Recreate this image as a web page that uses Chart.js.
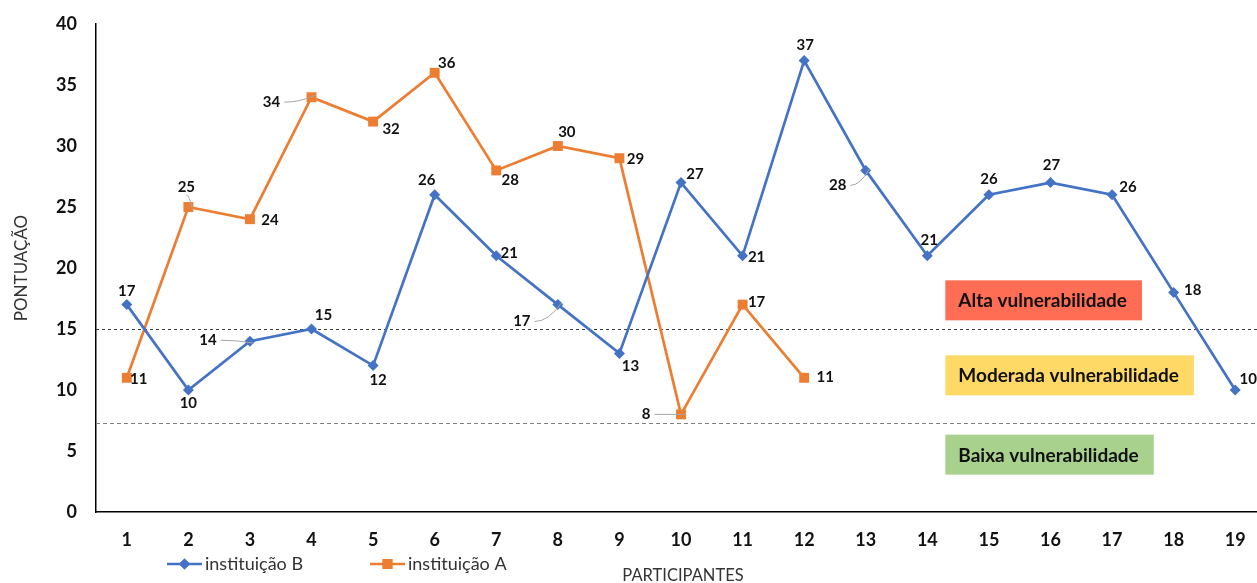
<!DOCTYPE html>
<html>
<head>
<meta charset="utf-8">
<script src="https://cdn.jsdelivr.net/npm/chart.js@4.4.1/dist/chart.umd.min.js"></script>
<style>
  html, body { margin: 0; padding: 0; background: #fff; overflow: hidden; }
  canvas { display: block; }
</style>
</head>
<body>
<canvas id="c" width="1273" height="583" style="width:1273px;height:583px"></canvas>
<script>
// Participants on the x axis
const participantes = ['1','2','3','4','5','6','7','8','9','10','11','12','13','14','15','16','17','18','19'];

// Scores per institution
const instituicaoB = [17, 10, 14, 15, 12, 26, 21, 17, 13, 27, 21, 37, 28, 21, 26, 27, 26, 18, 10];
const instituicaoA = [11, 25, 24, 34, 32, 36, 28, 30, 29, 8, 17, 11, null, null, null, null, null, null, null];

// Y axis ticks
const yTicks = [0, 5, 10, 15, 20, 25, 30, 35, 40];

// Vulnerability thresholds (dashed reference lines)
const limiares = [15, 7.3];

// Vulnerability bands: label, colour, vertical centre (score units)
const faixas = [
  { texto: 'Alta vulnerabilidade',     cor: '#FF6D55', centro: 17.35 },
  { texto: 'Moderada vulnerabilidade', cor: '#FFD966', centro: 11.2 },
  { texto: 'Baixa vulnerabilidade',    cor: '#A9D18E', centro: 4.7 }
];

// Data-label offsets from each point (px) and whether a leader line is drawn
const rotuloB = [[0,-13],[0,13],[-42,-1],[12,-14],[5,15],[-8,-15],[13,-3],[-36,17],[11,13],[14,-8],[14,1],[1,-15],[-28,15],[2,-16],[0,-16],[1,-17],[16,-8],[19,-2],[13,-11]];
const guiaB   = [false,false,true,false,false,false,false,true,false,false,false,false,true,false,false,false,false,false,false];
const rotuloA = [[12,1],[-2,-20],[20,1],[-40,5],[18,8],[12,-10],[14,10],[9,-14],[16,1],[-35,0],[14,-2],[21,-1]];
const guiaA   = [false,true,false,true,false,false,false,false,false,true,false,false];

const AZUL = '#4472C4';
const LARANJA = '#ED7D31';
const FONTE = 'Lato, "Open Sans", sans-serif';

const overlay = {
  id: 'overlay',
  beforeDatasetsDraw(chart) {
    const { ctx, chartArea, scales } = chart;
    ctx.save();
    // threshold lines
    limiares.forEach((v, i) => {
      const y = Math.round(scales.y.getPixelForValue(v)) + 0.5;
      ctx.strokeStyle = i === 0 ? '#3a3a3a' : '#808080';
      ctx.lineWidth = 1;
      ctx.setLineDash(i === 0 ? [3, 3] : [4, 3]);
      ctx.beginPath();
      ctx.moveTo(chartArea.left, y);
      ctx.lineTo(chart.width, y);
      ctx.stroke();
    });
    ctx.setLineDash([]);
    // band labels
    ctx.font = 'bold 19px ' + FONTE;
    ctx.textBaseline = 'middle';
    ctx.textAlign = 'left';
    const x0 = scales.x.getPixelForValue(13) + 18;
    faixas.forEach(f => {
      const yc = scales.y.getPixelForValue(f.centro);
      const w = ctx.measureText(f.texto).width + 28;
      ctx.fillStyle = f.cor;
      ctx.fillRect(x0, yc - 20, w, 40);
      ctx.fillStyle = '#111';
      ctx.fillText(f.texto, x0 + 13, yc + 1);
    });
    ctx.restore();
  },
  afterDatasetsDraw(chart) {
    const { ctx } = chart;
    ctx.save();
    ctx.font = 'bold 15px ' + FONTE;
    ctx.textAlign = 'center';
    ctx.textBaseline = 'middle';
    const sets = [[0, rotuloB, guiaB], [1, rotuloA, guiaA]];
    sets.forEach(([di, offs, guias]) => {
      const meta = chart.getDatasetMeta(di);
      const data = chart.data.datasets[di].data;
      meta.data.forEach((pt, i) => {
        if (data[i] == null || !offs[i]) return;
        const lx = pt.x + offs[i][0];
        const ly = pt.y + offs[i][1];
        const txt = String(data[i]);
        if (guias[i]) {
          const hw = ctx.measureText(txt).width / 2;
          ctx.strokeStyle = '#A6A6A6';
          ctx.lineWidth = 1;
          ctx.beginPath();
          let sx, sy;
          if (Math.abs(offs[i][0]) > Math.abs(offs[i][1])) {
            sx = lx + (offs[i][0] < 0 ? hw + 4 : -hw - 4); sy = ly;
          } else {
            sx = lx; sy = ly + (offs[i][1] < 0 ? 8 : -8);
          }
          const ex = pt.x - Math.sign(offs[i][0]) * 4;
          const ey = pt.y - Math.sign(offs[i][1]) * 2;
          ctx.moveTo(sx, sy);
          ctx.quadraticCurveTo((sx + ex) / 2, sy, ex, ey);
          ctx.stroke();
        }
        ctx.fillStyle = '#111';
        ctx.fillText(txt, lx, ly);
      });
    });
    ctx.restore();
  },
  afterDraw(chart) {
    const { ctx } = chart;
    ctx.save();
    // legend
    const itens = [
      { x: 167, cor: AZUL, estilo: 'rectRot', raio: 5.5, texto: 'instituição B' },
      { x: 370, cor: LARANJA, estilo: 'rect', raio: 7, texto: 'instituição A' }
    ];
    const ly = 564;
    itens.forEach(it => {
      ctx.strokeStyle = it.cor;
      ctx.lineWidth = 2.5;
      ctx.beginPath();
      ctx.moveTo(it.x, ly);
      ctx.lineTo(it.x + 35, ly);
      ctx.stroke();
      ctx.fillStyle = it.cor;
      Chart.helpers.drawPoint(ctx, { pointStyle: it.estilo, radius: it.raio, rotation: 0, borderWidth: 0 }, it.x + 17.5, ly);
      ctx.fill();
      ctx.fillStyle = '#333';
      ctx.font = '18px ' + FONTE;
      ctx.textAlign = 'left';
      ctx.textBaseline = 'middle';
      ctx.fillText(it.texto, it.x + 38, ly);
    });
    // x axis title
    ctx.font = '16.5px ' + FONTE;
    ctx.textAlign = 'center';
    ctx.fillStyle = '#333';
    ctx.fillText('PARTICIPANTES', 683, 576);
    ctx.restore();
  }
};

new Chart(document.getElementById('c'), {
  type: 'line',
  data: {
    labels: participantes,
    datasets: [
      {
        label: 'instituição B',
        data: instituicaoB,
        borderColor: AZUL,
        backgroundColor: AZUL,
        borderWidth: 2.7,
        pointStyle: 'rectRot',
        pointRadius: 5.5,
        pointBorderWidth: 0,
        pointHoverRadius: 5.5,
        tension: 0
      },
      {
        label: 'instituição A',
        data: instituicaoA,
        borderColor: LARANJA,
        backgroundColor: LARANJA,
        borderWidth: 2.7,
        pointStyle: 'rect',
        pointRadius: 7,
        pointBorderWidth: 0,
        pointHoverRadius: 7,
        tension: 0,
        spanGaps: false
      }
    ]
  },
  options: {
    responsive: false,
    animation: false,
    events: [],
    layout: { padding: { top: 24, right: 0, left: 0, bottom: 0 } },
    plugins: {
      legend: { display: false },
      tooltip: { enabled: false }
    },
    scales: {
      x: {
        type: 'category',
        offset: true,
        grid: { display: false },
        border: { display: true, color: '#000', width: 1.5 },
        ticks: {
          color: '#111',
          font: { family: FONTE, size: 18, weight: 'bold' },
          padding: 9,
          maxRotation: 0,
          autoSkip: false
        },
        afterFit: s => { s.height = 71; s.paddingLeft = 0; s.paddingRight = 0; }
      },
      y: {
        min: 0,
        max: 40,
        grid: { display: false },
        border: { display: true, color: '#000', width: 1.5 },
        afterBuildTicks: s => { s.ticks = yTicks.map(v => ({ value: v })); },
        ticks: {
          color: '#111',
          font: { family: FONTE, size: 18, weight: 'bold' },
          padding: 11
        },
        title: {
          display: true,
          text: 'PONTUAÇÃO',
          color: '#333',
          font: { family: FONTE, size: 17 },
          padding: { top: 11, bottom: 0 }
        },
        afterFit: s => { s.width = 96; s.paddingTop = 0; s.paddingBottom = 0; }
      }
    }
  },
  plugins: [overlay]
});
</script>
</body>
</html>
